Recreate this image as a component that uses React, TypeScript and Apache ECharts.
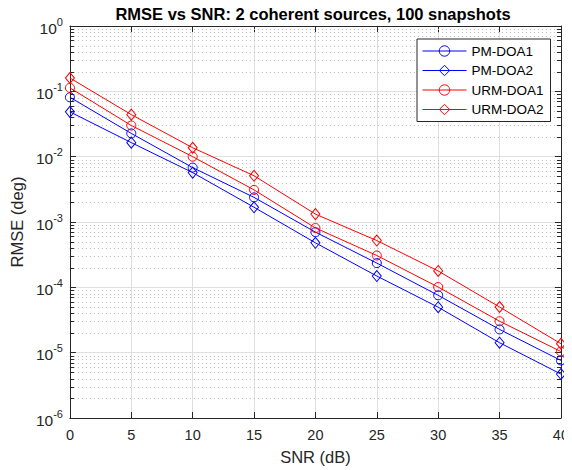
import React, { useEffect, useRef } from "react";
import * as echarts from "echarts";

const snr = [0, 5, 10, 15, 20, 25, 30, 35, 40];
const pmDoa1 = [0.081, 0.0227, 0.0068, 0.00238, 7.0e-4, 2.35e-4, 7.55e-5, 2.27e-5, 7.6e-6];
const pmDoa2 = [0.0485, 0.0164, 0.0057, 0.00168, 4.8e-4, 1.49e-4, 4.96e-5, 1.42e-5, 4.7e-6];
const urmDoa1 = [0.113, 0.03, 0.01, 0.0031, 8.1e-4, 3.07e-4, 1.01e-4, 3.03e-5, 1.04e-5];
const urmDoa2 = [0.16, 0.044, 0.0137, 0.0051, 0.00132, 5.2e-4, 1.78e-4, 5.0e-5, 1.37e-5];

const decades = [1e-6, 1e-5, 1e-4, 1e-3, 1e-2, 1e-1];
const minorMultipliers = [2, 3, 4, 5, 6, 7, 8, 9];

const FONT = "'Liberation Sans', Arial, Helvetica, sans-serif";
const AX = "#262626";

export default function App() {
  const ref = useRef<HTMLDivElement>(null);
  useEffect(() => {
    if (!ref.current) return;
    const chart = echarts.init(ref.current, null, { renderer: "svg" });
    const minorData: number[][] = [];
    decades.forEach((d) => minorMultipliers.forEach((m) => minorData.push([0, m * d])));

    const mk = (name: string, data: number[], color: string, symbol: string, size: any, z: number) => ({
      name,
      type: "line",
      data: snr.map((x, i) => [x, data[i]]),
      symbol,
      symbolSize: size,
      showAllSymbol: true,
      z,
      lineStyle: { color, width: 1 },
      itemStyle: { color: "rgba(0,0,0,0)", borderColor: color, borderWidth: 1 },
      emphasis: { disabled: true },
    });

    const yLabel = {
      fontFamily: FONT,
      color: AX,
      margin: 7,
      formatter: (v: number) => {
        const e = Math.round(Math.log10(v));
        return "{b|10}{s|" + e + "}";
      },
      rich: {
        b: { fontSize: 15.5, fontFamily: FONT, color: AX, lineHeight: 20, verticalAlign: "bottom", padding: [4, 0, 0, 0] },
        s: { fontSize: 11, fontFamily: FONT, color: AX, lineHeight: 20, verticalAlign: "top" },
      },
    };

    chart.setOption({
      animation: false,
      title: {
        text: "RMSE vs SNR: 2 coherent sources, 100 snapshots",
        left: 313,
        textAlign: "center",
        top: 5,
        padding: 0,
        textStyle: { fontFamily: FONT, fontSize: 16.5, fontWeight: "bold", color: "#000" },
      },
      legend: {
        orient: "vertical",
        left: 417,
        top: 39,
        padding: [5, 7, 5, 5],
        itemWidth: 44,
        itemHeight: 13,
        itemGap: 5.5,
        backgroundColor: "#fff",
        borderColor: AX,
        borderWidth: 1,
        borderRadius: 0,
        selectedMode: false,
        itemStyle: { borderWidth: 1 },
        lineStyle: { width: 1 },
        data: ["PM-DOA1", "PM-DOA2", "URM-DOA1", "URM-DOA2"],
        textStyle: { fontFamily: FONT, fontSize: 13.5, color: "#000", lineHeight: 13 },
      },
      grid: { left: 64, right: 9, top: 26, bottom: 50, containLabel: false },
      xAxis: [
        {
          type: "value",
          min: 0,
          max: 40,
          interval: 5,
          name: "SNR (dB)",
          nameLocation: "middle",
          nameGap: 30,
          nameTextStyle: { fontFamily: FONT, fontSize: 16.5, color: AX },
          axisLine: { show: true, onZero: false, lineStyle: { color: AX, width: 1 } },
          axisTick: { show: true, inside: true, length: 6, lineStyle: { color: AX } },
          axisLabel: { fontFamily: FONT, fontSize: 14.5, color: AX, margin: 9 },
          splitLine: { show: true, lineStyle: { color: "#dfdfdf", width: 1 } },
        },
        {
          type: "value",
          position: "top",
          min: 0,
          max: 40,
          interval: 5,
          axisLine: { show: true, onZero: false, lineStyle: { color: AX, width: 1 } },
          axisTick: { show: true, inside: true, length: 6, lineStyle: { color: AX } },
          axisLabel: { show: false },
          splitLine: { show: false },
        },
      ],
      yAxis: [
        {
          type: "log",
          logBase: 10,
          min: 1e-6,
          max: 1,
          name: "RMSE (deg)",
          nameLocation: "middle",
          nameGap: 35,
          nameTextStyle: { fontFamily: FONT, fontSize: 16.5, color: AX },
          axisLine: { show: true, onZero: false, lineStyle: { color: AX, width: 1 } },
          axisTick: { show: true, inside: true, length: 6, lineStyle: { color: AX } },
          axisLabel: yLabel,
          splitLine: { show: true, lineStyle: { color: "#dfdfdf", width: 1 } },
          minorTick: { show: false },
        },
        {
          type: "log",
          logBase: 10,
          min: 1e-6,
          max: 1,
          position: "right",
          axisLine: { show: true, onZero: false, lineStyle: { color: AX, width: 1 } },
          axisTick: { show: true, inside: true, length: 6, lineStyle: { color: AX } },
          axisLabel: { show: false },
          splitLine: { show: false },
        },
      ],
      series: [
        {
          name: "minor",
          type: "custom",
          silent: true,
          z: 1,
          data: minorData,
          encode: { x: 0, y: 1 },
          renderItem: (params: any, api: any) => {
            const cs = params.coordSys;
            const y = Math.round(api.coord([0, api.value(1)])[1]) + 0.5;
            return {
              type: "group",
              children: [
                { type: "line", shape: { x1: cs.x, y1: y, x2: cs.x + cs.width, y2: y }, style: { stroke: "#bdbdbd", lineWidth: 1, lineDash: [1, 3] } },
                { type: "line", shape: { x1: cs.x, y1: y, x2: cs.x + 4, y2: y }, style: { stroke: AX, lineWidth: 1 } },
                { type: "line", shape: { x1: cs.x + cs.width, y1: y, x2: cs.x + cs.width - 4, y2: y }, style: { stroke: AX, lineWidth: 1 } },
              ],
            };
          },
        },
        mk("PM-DOA1", pmDoa1, "#0000ff", "circle", 9, 3),
        mk("PM-DOA2", pmDoa2, "#0000ff", "diamond", [9, 11], 4),
        mk("URM-DOA1", urmDoa1, "#ff0000", "circle", 9, 5),
        mk("URM-DOA2", urmDoa2, "#ff0000", "diamond", [9, 11], 6),
      ],
    });
    return () => chart.dispose();
  }, []);
  return <div ref={ref} style={{ width: 572, height: 470, marginLeft: -8, marginTop: -8 }} />;
}
